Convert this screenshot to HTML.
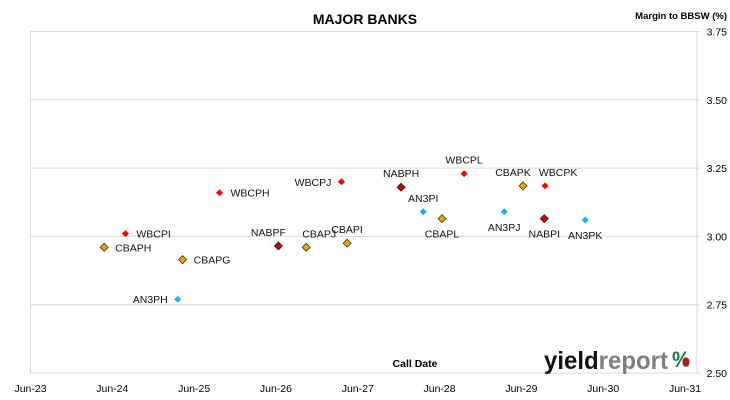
<!DOCTYPE html>
<html><head><meta charset="utf-8"><style>
body{margin:0;background:#fff}
svg{display:block;font-family:"Liberation Sans",sans-serif}
</style></head><body>
<svg width="730" height="400" viewBox="0 0 730 400">
<text x="365" y="24" text-anchor="middle" font-size="14" font-weight="bold">MAJOR BANKS</text>
<text x="727" y="19" text-anchor="end" font-size="9.5" font-weight="bold">Margin to BBSW (%)</text>
<g id="grid"></g><g id="axes"></g><g id="marks"></g>
<text x="415" y="367" text-anchor="middle" font-size="10.5" font-weight="bold">Call Date</text>
<text x="544" y="369" font-size="25" font-weight="bold" textLength="124" lengthAdjust="spacingAndGlyphs"><tspan fill="#111">yield</tspan><tspan fill="#7f7f7f">report</tspan></text>
<text x="672" y="367" font-size="22" font-weight="bold" fill="#1a7a3a" textLength="18" lengthAdjust="spacingAndGlyphs">%</text>
<circle cx="686" cy="362" r="3.5" fill="#c0141c"/>
</svg>
<script>
const names=["CBAPH","WBCPI","CBAPG","AN3PH","WBCPH","NABPF","CBAPJ","CBAPI","WBCPJ","NABPH","AN3PI","CBAPL","WBCPL","AN3PJ","CBAPK","WBCPK","NABPI","AN3PK"];
const callDates=[2024.40,2024.66,2025.36,2025.30,2025.81,2026.53,2026.87,2027.37,2027.30,2028.03,2028.30,2028.53,2028.80,2029.29,2029.52,2029.79,2029.78,2030.28];
const margins=[2.96,3.01,2.915,2.77,3.16,2.965,2.96,2.975,3.20,3.18,3.09,3.065,3.23,3.09,3.185,3.185,3.065,3.06];
const labelSide=["right","right","right","left","right","aboveL","aboveR","above","left","above","above","below","above","below","aboveL","aboveR","below","below"];
const xTicks=["Jun-23","Jun-24","Jun-25","Jun-26","Jun-27","Jun-28","Jun-29","Jun-30","Jun-31"];
const yTicks=[2.50,2.75,3.00,3.25,3.50,3.75];
const NS="http://www.w3.org/2000/svg";
const X0=30.5,X1=685,Y0=373,Y1=31.5;
const xs=v=>X0+(v-2023.5)/8*(X1-X0);
const ys=v=>Y0-(v-2.5)/1.25*(Y0-Y1);
function mk(t,a,p){const e=document.createElementNS(NS,t);for(const k in a)e.setAttribute(k,a[k]);p.appendChild(e);return e;}
const grid=document.getElementById('grid'),axes=document.getElementById('axes'),marks=document.getElementById('marks');
yTicks.forEach(v=>{
 const l=mk('line',{x1:X0,x2:700,y1:ys(v),y2:ys(v),stroke:'#d9d9d9','stroke-width':1},grid);
 
 
 const t=mk('text',{x:727,y:ys(v)+4,'text-anchor':'end','font-size':10.5},axes);
 t.textContent=v.toFixed(2);
 
 
});
const ax=mk('line',{x1:X0,x2:X0,y1:Y1,y2:Y0,stroke:'#d9d9d9'},axes);


const ax2=mk('line',{x1:697,x2:697,y1:Y1,y2:Y0,stroke:'#d9d9d9'},axes);


xTicks.forEach((s,i)=>{
 const t=mk('text',{x:xs(2023.5+i),y:392,'text-anchor':'middle','font-size':10.5},axes);
 t.textContent=s;
 
 
});
function style(n){
 if(n.startsWith('WBC'))return{fill:'#ff0000',stroke:'none',r:3.5};
 if(n.startsWith('NAB'))return{fill:'#d00000',stroke:'#222',r:4};
 if(n.startsWith('CBA'))return{fill:'#e6a800',stroke:'#333',r:4};
 return{fill:'#19b4f0',stroke:'none',r:3.5};
}
names.forEach((n,i)=>{
 const x=xs(callDates[i]),y=ys(margins[i]),s=style(n),r=s.r;
 const p=mk('polygon',{points:`${x},${y-r} ${x+r},${y} ${x},${y+r} ${x-r},${y}`,fill:s.fill,stroke:s.stroke,'stroke-width':0.8},marks);
 
 
 let tx=x,ty=y+4,an='middle';
 const side=labelSide[i];
 if(side==='right'){tx=x+11;an='start';}
 else if(side==='left'){tx=x-10;an='end';}
 else if(side==='above'){ty=y-10;}
 else if(side==='aboveL'){ty=y-10;tx=x-10;}
 else if(side==='aboveR'){ty=y-10;tx=x+13;}
 else {ty=y+19;}
 const t=mk('text',{x:tx,y:ty,'text-anchor':an,'font-size':10.5,fill:'#111'},marks);
 t.textContent=n;
 
 
});
</script>
</body></html>
